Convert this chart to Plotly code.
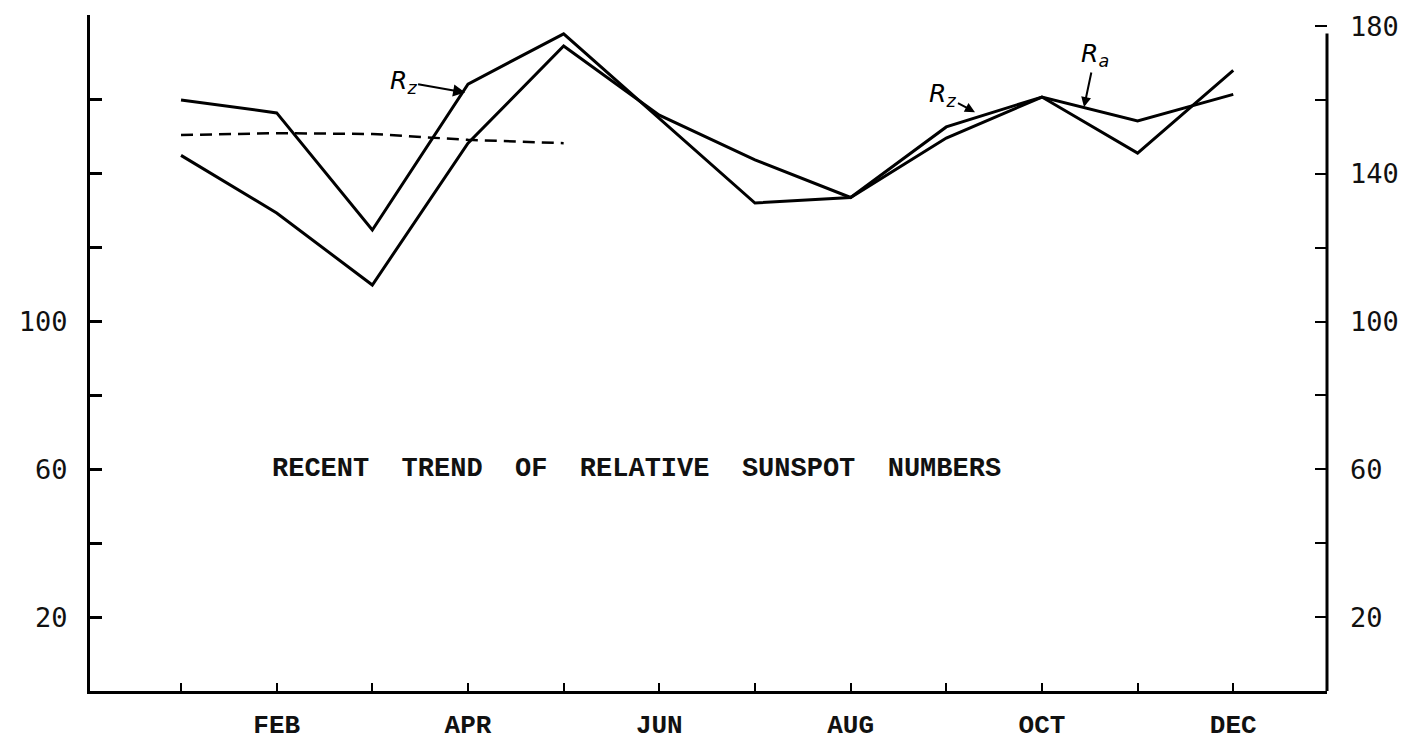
import plotly.graph_objects as go

# ---- data ----
months = [1, 2, 3, 4, 5, 6, 7, 8, 9, 10, 11, 12]
label_months = [2, 4, 6, 8, 10, 12]
month_labels = ["FEB", "APR", "JUN", "AUG", "OCT", "DEC"]
r_z = [160.0, 156.5, 124.8, 164.3, 177.9, 155.0, 132.1, 133.6, 152.7, 160.8, 145.6, 168.0]
r_a = [145.0, 129.4, 109.9, 148.3, 174.6, 155.9, 143.8, 133.6, 149.7, 160.8, 154.3, 161.5]
smooth_months = [1, 2, 3, 4, 5]
smooth_vals = [150.5, 151.0, 150.8, 149.2, 148.3]

left_tickvals = [20, 60, 100]
right_tickvals = [20, 60, 100, 140, 180]
minor_tickvals = [20, 40, 60, 80, 100, 120, 140, 160, 180]

title_text = "\u00a0\u00a0".join(["RECENT", "TREND", "OF", "RELATIVE", "SUNSPOT", "NUMBERS"])

TICK_FONT = dict(family="DejaVu Sans Mono", size=27, color="#111")
MONTH_FONT = dict(family="Liberation Mono", size=26, color="#111")

fig = go.Figure()
fig.add_trace(go.Scatter(x=months, y=r_z, mode="lines", name="Rz",
                         line=dict(color="black", width=3)))
fig.add_trace(go.Scatter(x=months, y=r_a, mode="lines", name="Ra",
                         line=dict(color="black", width=3)))
fig.add_trace(go.Scatter(x=smooth_months, y=smooth_vals, mode="lines", name="smoothed",
                         line=dict(color="black", width=2.5, dash="12px,7px")))
# invisible trace to activate the right axis
fig.add_trace(go.Scatter(x=[months[0]], y=[r_z[0]], yaxis="y2", mode="markers",
                         marker=dict(opacity=0), showlegend=False, hoverinfo="skip"))

fig.update_layout(
    width=1421, height=743,
    margin=dict(l=90, r=94, t=15, b=52),
    paper_bgcolor="white", plot_bgcolor="white",
    showlegend=False,
    xaxis=dict(range=[0.0485, 12.98], tickmode="array", tickvals=label_months,
               ticktext=[f"<b>{t}</b>" for t in month_labels],
               ticks="inside", ticklen=8, tickwidth=2, tickcolor="black",
               minor=dict(tickmode="array", tickvals=months, ticks="inside", ticklen=8,
                          tickwidth=2, tickcolor="black", showgrid=False),
               showline=True, linecolor="black", linewidth=3,
               showgrid=False, zeroline=False, tickfont=MONTH_FONT,
               ticklabelstandoff=8, automargin=False),
    yaxis=dict(range=[0, 183], tickmode="array", tickvals=left_tickvals,
               ticks="inside", ticklen=12, tickwidth=3, tickcolor="black",
               minor=dict(tickmode="array", tickvals=minor_tickvals[:-1], ticks="inside",
                          ticklen=12, tickwidth=3, tickcolor="black", showgrid=False),
               showline=True, linecolor="black", linewidth=3,
               showgrid=False, zeroline=False, tickfont=TICK_FONT,
               ticklabelstandoff=14, automargin=False),
    yaxis2=dict(range=[0, 183], overlaying="y", side="right", tickmode="array",
                tickvals=right_tickvals,
                ticks="inside", ticklen=12, tickwidth=2, tickcolor="black",
                minor=dict(tickmode="array", tickvals=minor_tickvals, ticks="inside",
                           ticklen=12, tickwidth=2, tickcolor="black", showgrid=False),
                showline=False, showgrid=False, zeroline=False, tickfont=TICK_FONT,
                ticklabelstandoff=22, automargin=False),
)

# right axis line (shorter than the left one, as drawn)
fig.add_shape(type="line", xref="paper", yref="y", x0=1, x1=1, y0=0, y1=178,
              line=dict(color="black", width=3))

ann_font = dict(family="DejaVu Sans", size=25, color="black")
fig.add_annotation(x=3.97, y=162, xref="x", yref="y", text="<i>R<sub>z</sub></i>",
                   showarrow=True, ax=-62, ay=-11, arrowhead=2, arrowsize=1.2, arrowwidth=2,
                   arrowcolor="black", font=ann_font)
fig.add_annotation(x=9.30, y=156.7, xref="x", yref="y", text="<i>R<sub>z</sub></i>",
                   showarrow=True, ax=-32, ay=-17, arrowhead=2, arrowsize=1.0, arrowwidth=2,
                   arrowcolor="black", font=ann_font)
fig.add_annotation(x=10.44, y=158.1, xref="x", yref="y", text="<i>R<sub>a</sub></i>",
                   showarrow=True, ax=11, ay=-52, arrowhead=2, arrowsize=1.0, arrowwidth=2,
                   arrowcolor="black", font=ann_font)

fig.add_annotation(x=0.1455, y=60, xref="paper", yref="y", text=f"<b>{title_text}</b>",
                   showarrow=False, xanchor="left", yanchor="middle",
                   font=dict(family="Liberation Mono", size=27, color="#111"))

fig.write_html("out.html", config={"displayModeBar": False},
               post_script="document.body.style.margin='0';document.body.style.overflow='hidden';")
